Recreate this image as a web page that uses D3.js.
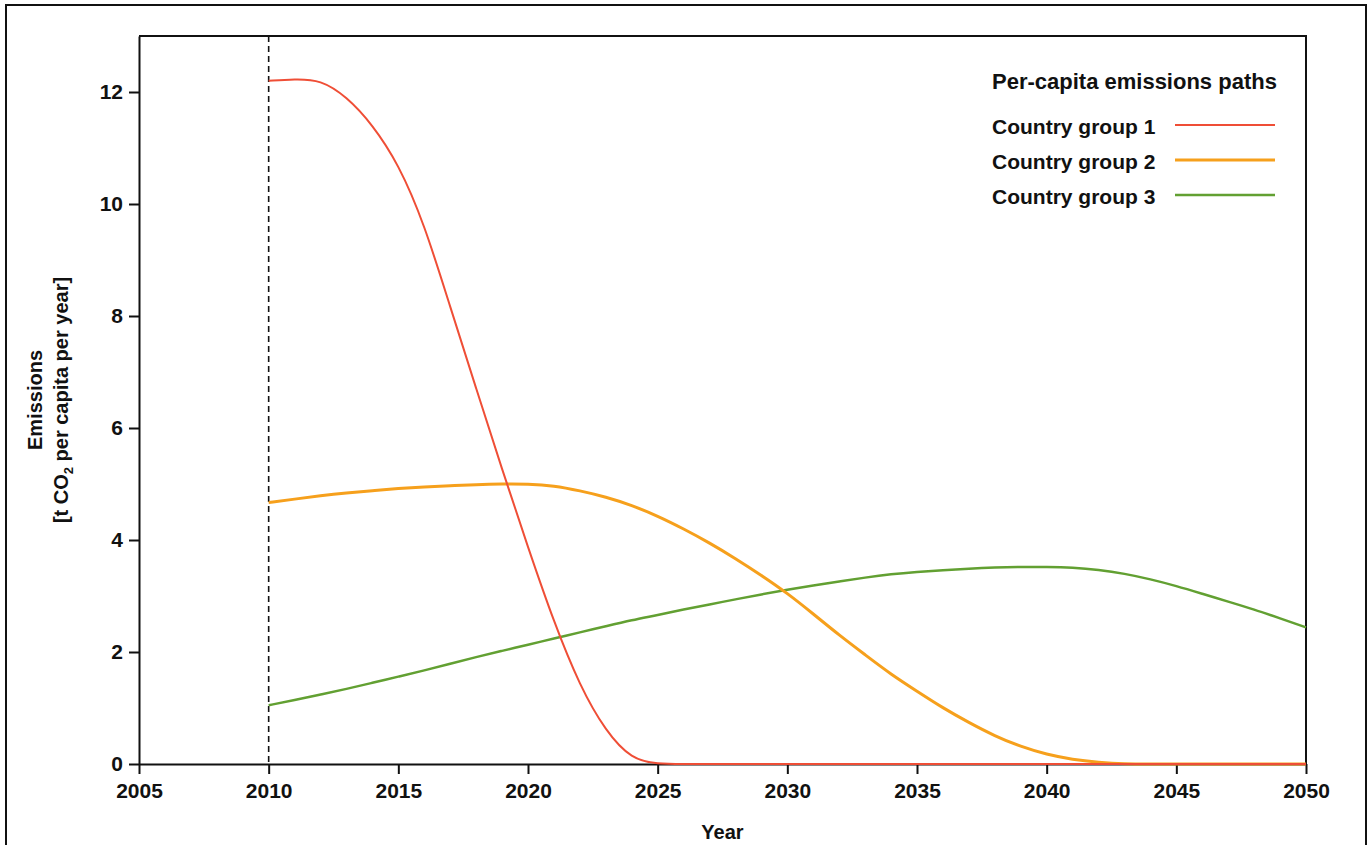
<!DOCTYPE html>
<html lang="en">
<head>
   <meta charset="utf-8">
   <title>Per-capita emissions paths</title>
   <style type="text/css">
       body{
           margin: 0;
           background: #fff;
           font-family: "Liberation Sans", Arial, Helvetica, sans-serif;
       }
       .axis path, .axis line{
           stroke: #111;
           stroke-width: 2px;
       }
       .axis text{
           font-size: 21px;
           font-weight: bold;
           fill: #111;
       }
       .axis-label{
           font-size: 20px;
           font-weight: bold;
           fill: #111;
           text-anchor: middle;
       }
       .legend-title{
           font-size: 22px;
           font-weight: 900;
           fill: #111;
       }
       .legend-item{
           font-size: 21px;
           font-weight: bold;
           fill: #111;
       }
       .path{
           fill: none;
           stroke-linejoin: round;
       }
   </style>
</head>
<body>
<script src="https://d3js.org/d3.v7.min.js" charset="utf-8"></script>
<script>
    var years = d3.range(2010, 2051)

    // t CO2 per capita per year at yearly steps
    var group1 = [12.2,12.23,12.22,11.92,11.42,10.72,9.65,8.16,6.71,5.26,
                  3.87,2.53,1.39,0.58,0.08,0,0,0,0,0,
                  0,0,0,0,0,0,0,0,0,0,
                  0,0,0,0,0,0,0,0,0,0,0]
    var group2 = [4.67,4.73,4.79,4.84,4.88,4.92,4.95,4.97,4.99,5.0,
                  5.0,4.97,4.88,4.77,4.62,4.43,4.2,3.95,3.67,3.37,
                  3.05,2.68,2.3,1.95,1.6,1.3,1.0,0.74,0.5,0.31,
                  0.17,0.08,0.03,0,0,0,0,0,0,0,0]
    var group3 = [1.05,1.14,1.24,1.34,1.45,1.56,1.67,1.79,1.91,2.02,
                  2.13,2.24,2.35,2.46,2.57,2.66,2.76,2.85,2.94,3.03,
                  3.11,3.19,3.26,3.33,3.39,3.43,3.46,3.49,3.51,3.52,
                  3.52,3.51,3.47,3.4,3.3,3.18,3.04,2.9,2.76,2.6,2.44]

    var seriesNames = ['Country group 1','Country group 2','Country group 3']
    var seriesColors = ['#ef4e36','#f6a01c','#62a032']
    var seriesWidths = [2, 3, 2.5]

    var xTicks = [2005,2010,2015,2020,2025,2030,2035,2040,2045,2050]
    var yTicks = [0,2,4,6,8,10,12]
    var baseYear = 2010

    var width = 1372, height = 845
    var margin = {left: 139, right: 66, top: 36, bottom: 81}

    var svg = d3.select('body')
        .append('svg')
            .attr('width', width)
            .attr('height', height)

    // outer frame
    svg.append('rect')
        .attr('x', 6)
        .attr('y', 5)
        .attr('width', 1360)
        .attr('height', 860)
        .attr('fill', 'none')
        .attr('stroke', '#111')
        .attr('stroke-width', 2)

    var x = d3.scaleLinear()
        .domain([2005, 2050])
        .range([margin.left, width - margin.right])

    var y = d3.scaleLinear()
        .domain([0, 13])
        .range([height - margin.bottom, margin.top])

    // top and right border of the plot box
    svg.append('path')
        .attr('d', 'M' + x(2005) + ',' + y(13) + 'H' + x(2050) + 'V' + y(0))
        .attr('fill', 'none')
        .attr('stroke', '#111')
        .attr('stroke-width', 2)

    // dashed marker at base year
    svg.append('line')
        .attr('x1', x(baseYear))
        .attr('x2', x(baseYear))
        .attr('y1', y(13))
        .attr('y2', y(0))
        .attr('stroke', '#111')
        .attr('stroke-width', 1.6)
        .attr('stroke-dasharray', '6,4')

    svg.append('g')
        .attr('class', 'axis')
        .attr('transform', 'translate(0,' + y(0) + ')')
        .call(d3.axisBottom(x).tickValues(xTicks).tickFormat(d3.format('d')).tickSize(10).tickSizeOuter(0).tickPadding(9))

    svg.append('g')
        .attr('class', 'axis')
        .attr('transform', 'translate(' + x(2005) + ',0)')
        .call(d3.axisLeft(y).tickValues(yTicks).tickSize(10).tickSizeOuter(0).tickPadding(6))

    // lines, group 1 drawn last so it sits on top
    var series = [group3, group2, group1]
    var order = [2, 1, 0]
    var line = d3.line()
        .x(function(d, i) { return x(years[i]); })
        .y(function(d) { return y(d); })
        .curve(d3.curveBasis)

    svg.append('g').selectAll('path')
        .data(series)
        .enter().append('path')
            .attr('class', 'path')
            .attr('d', line)
            .attr('stroke', function(d, i) { return seriesColors[order[i]]; })
            .attr('stroke-width', function(d, i) { return seriesWidths[order[i]]; })

    // axis titles
    svg.append('text')
        .attr('class', 'axis-label')
        .attr('x', (x(2005) + x(2050)) / 2)
        .attr('y', 839)
        .text('Year')

    var yLabel = svg.append('text')
        .attr('class', 'axis-label')
        .attr('transform', 'translate(0,' + (y(0) + y(13)) / 2 + ') rotate(-90)')
    yLabel.append('tspan')
        .attr('x', 0)
        .attr('y', 42)
        .text('Emissions')
    var sub = yLabel.append('tspan')
        .attr('x', 0)
        .attr('y', 68)
    sub.append('tspan').text('[t CO')
    sub.append('tspan').attr('font-size', '13px').attr('dy', 5).text('2')
    sub.append('tspan').attr('dy', -5).text(' per capita per year]')

    // legend
    var legend = svg.append('g')
        .attr('transform', 'translate(992,89)')

    legend.append('text')
        .attr('class', 'legend-title')
        .attr('x', 0)
        .attr('y', 0)
        .text('Per-capita emissions paths')

    var items = legend.selectAll('g.item')
        .data(seriesNames)
        .enter().append('g')
            .attr('class', 'item')
            .attr('transform', function(d, i) { return 'translate(0,' + (45 + i * 35) + ')'; })

    items.append('text')
        .attr('class', 'legend-item')
        .attr('x', 0)
        .attr('y', 0)
        .text(function(d) { return d; })

    items.append('line')
        .attr('x1', 183)
        .attr('x2', 283)
        .attr('y1', -9)
        .attr('y2', -9)
        .attr('stroke', function(d, i) { return seriesColors[i]; })
        .attr('stroke-width', function(d, i) { return seriesWidths[i]; })
</script>
</body>
</html>
